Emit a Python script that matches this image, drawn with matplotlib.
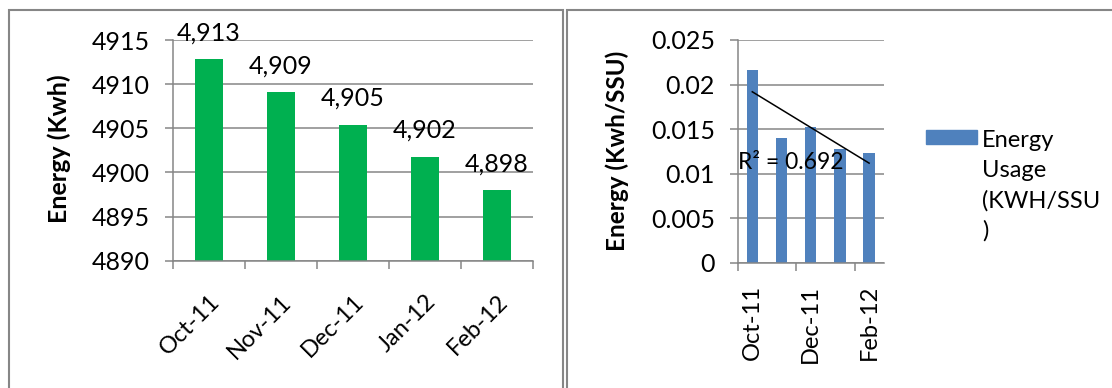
import numpy as np
import matplotlib
matplotlib.use('Agg')
import matplotlib.pyplot as plt
from matplotlib.patches import Rectangle
from matplotlib.ticker import FixedLocator, FuncFormatter

# Data
months = ['Oct-11', 'Nov-11', 'Dec-11', 'Jan-12', 'Feb-12']
energy_kwh = [4912.8, 4909.1, 4905.4, 4901.8, 4898.0]
energy_labels = ['4,913', '4,909', '4,905', '4,902', '4,898']
usage_kwh_ssu = [0.02167, 0.0140, 0.0152, 0.01276, 0.01228]
r2_label = 'R² = 0.692'

plt.rcParams['font.family'] = ['Lato', 'DejaVu Sans']
plt.rcParams['font.size'] = 18

W, H = 1112, 388
grid_col = '#868686'
green = '#00B050'
blue = '#4F81BD'

fig = plt.figure(figsize=(W / 100, H / 100), dpi=100)


def px_axes(x0, y0, x1, y1):
    return fig.add_axes([x0 / W, 1 - y1 / H, (x1 - x0) / W, (y1 - y0) / H])


def style_axes(ax):
    for s in ['top', 'right']:
        ax.spines[s].set_visible(False)
    for s in ['left', 'bottom']:
        ax.spines[s].set_color(grid_col)
        ax.spines[s].set_linewidth(1.1)
    ax.yaxis.grid(True, color=grid_col, linewidth=1.1)
    ax.set_axisbelow(True)
    ax.tick_params(axis='y', length=5.5, width=1.1, color=grid_col, pad=11,
                   labelsize=18)
    ax.tick_params(axis='x', which='major', length=0, labelsize=17)
    ax.tick_params(axis='x', which='minor', length=5.5, width=1.1, color=grid_col)


x = np.arange(len(months))

# ---- left chart: Energy (Kwh)
ax1 = px_axes(172.7, 40, 532.7, 260.7)
ax1.bar(x, energy_kwh, width=0.39, color=green, zorder=2)
ax1.set_xlim(-0.5, len(months) - 0.5)
ax1.set_ylim(4890, 4915)
ax1.set_yticks(np.arange(4890, 4916, 5))
ax1.yaxis.set_major_formatter(FuncFormatter(lambda v, p: f'{v:.0f}'))
ax1.set_xticks(x)
ax1.set_xticklabels(months, rotation=45, ha='right', rotation_mode='anchor')
ax1.xaxis.set_minor_locator(FixedLocator(np.arange(-0.5, len(months), 1.0)))
style_axes(ax1)
ax1.tick_params(axis='x', which='major', pad=22)
for i, (v, lab) in enumerate(zip(energy_kwh, energy_labels)):
    ax1.annotate(lab, (i, v), xytext=(0, 19), textcoords='offset points',
                 ha='center', va='center', fontsize=18)
ax1.set_ylabel('Energy (Kwh)', fontweight='bold', fontsize=18)
ax1.yaxis.set_label_coords(-0.283, 0.506)

# ---- right chart: Energy usage (Kwh/SSU)
ax2 = px_axes(737.7, 40, 883.7, 262.7)
ax2.bar(x, usage_kwh_ssu, width=0.39, color=blue, zorder=2)
coef = np.polyfit(x, usage_kwh_ssu, 1)
ax2.plot(x, np.polyval(coef, x), color='black', linewidth=1.1, zorder=3)
ax2.set_xlim(-0.5, len(months) - 0.5)
ax2.set_ylim(0, 0.025)
ax2.set_yticks(np.arange(0, 0.0251, 0.005))
ax2.yaxis.set_major_formatter(FuncFormatter(lambda v, p: f'{v:g}'))
ax2.set_xticks(x[::2])
ax2.set_xticklabels(months[::2], rotation=90, ha='center', va='top')
ax2.xaxis.set_minor_locator(FixedLocator(np.arange(-0.5, len(months) - 1, 2.0)))
style_axes(ax2)
ax2.tick_params(axis='x', which='major', pad=16)
ax2.text(-0.5, 0.0112, r2_label, ha='left', va='center', zorder=4, fontsize=16.5)
ax2.set_ylabel('Energy (Kwh/SSU)', fontweight='bold', fontsize=17.5)
ax2.yaxis.set_label_coords(-0.745, 0.502)

# legend drawn by hand so the swatch sits beside the first line
fig.add_artist(Rectangle((925.8 / W, 1 - 144.3 / H), 51.4 / W, 14.3 / H,
                         transform=fig.transFigure, color=blue))
fig.text(982 / W, 1 - 186 / H, 'Energy\nUsage\n(KWH/SSU\n)', ha='left',
         va='center', linespacing=1.5, fontsize=17)

# panel borders
fig.add_artist(Rectangle((8.5 / W, -0.05), 554 / W, 1.05 - 10.5 / H,
                         transform=fig.transFigure, fill=False,
                         edgecolor=grid_col, linewidth=1.5))
fig.add_artist(Rectangle((566.5 / W, -0.05), 0.6, 1.05 - 10.5 / H,
                         transform=fig.transFigure, fill=False,
                         edgecolor=grid_col, linewidth=1.5))

fig.savefig('out.png', dpi=100)
